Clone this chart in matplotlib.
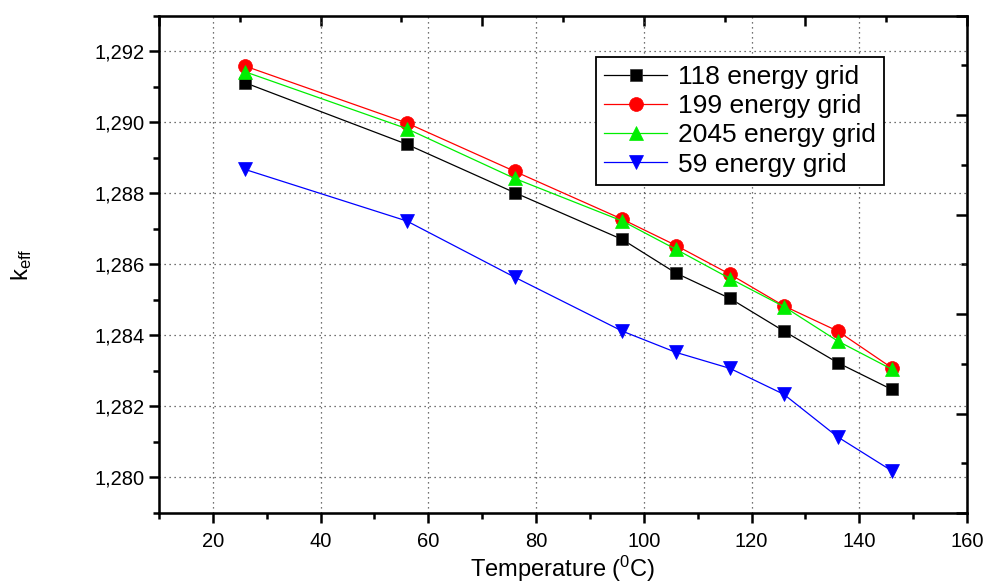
import numpy as np
import matplotlib
matplotlib.use('Agg')
import matplotlib.pyplot as plt
from matplotlib.ticker import MultipleLocator, FuncFormatter

plt.rcParams['font.family'] = ['Liberation Sans', 'DejaVu Sans']
plt.rcParams['mathtext.fontset'] = 'custom'
plt.rcParams['mathtext.rm'] = 'Liberation Sans'
plt.rcParams['mathtext.it'] = 'Liberation Sans'

# data
temps   = [26, 56, 76, 96, 106, 116, 126, 136, 146]
k_118   = [1.29111, 1.28938, 1.28802, 1.28670, 1.28575, 1.28504, 1.28412, 1.28323, 1.28248]
k_199   = [1.29158, 1.28998, 1.28862, 1.28727, 1.28653, 1.28572, 1.28483, 1.28412, 1.28309]
k_2045  = [1.29142, 1.28982, 1.28842, 1.28722, 1.28642, 1.28560, 1.28481, 1.28384, 1.28305]
k_59    = [1.28867, 1.28722, 1.28564, 1.28412, 1.28352, 1.28307, 1.28234, 1.28114, 1.28019]
labels  = ['118 energy grid', '199 energy grid', '2045 energy grid', '59 energy grid']

fig = plt.figure(figsize=(9.9, 5.85), dpi=100)
ax = fig.add_axes([0.1606, 0.1231, 0.8162, 0.8501])

ax.plot(temps, k_118, '-s', color='black', lw=0.9, ms=9, mec='#333333', mew=0.5, label=labels[0])
ax.plot(temps, k_199, '-o', color='red', lw=0.9, ms=10, mec='red', mew=0.5, label=labels[1])
ax.plot(temps, k_2045, '-^', color='#00ee00', lw=0.9, ms=10.5, mec='#00ee00', mew=0.5, label=labels[2])
ax.plot(temps, k_59, '-v', color='blue', lw=0.9, ms=10.5, mec='blue', mew=0.5, label=labels[3])

ax.set_xlim(10, 160)
ax.set_ylim(1.279, 1.293)
ax.xaxis.set_major_locator(MultipleLocator(20))
ax.xaxis.set_minor_locator(MultipleLocator(10))
ax.yaxis.set_major_locator(MultipleLocator(0.002))
ax.yaxis.set_minor_locator(MultipleLocator(0.001))
ax.yaxis.set_major_formatter(FuncFormatter(lambda v, p: ('%.3f' % v).replace('.', ',')))

ax.grid(True, which='major', linestyle=(0, (1, 3)), color='#444444', lw=0.9)
ax.tick_params(which='major', direction='out', length=7, width=1.8, labelsize=14.5)
ax.tick_params(which='minor', direction='out', length=4.5, width=1.8)
ax.tick_params(axis='x', pad=7)
ax.tick_params(axis='y', pad=3)
for s in ax.spines.values():
    s.set_linewidth(1.8)

# Origin-style opposite axes with their own tick spacing
axt = ax.twiny()
axt.set_xlim(0, 1)
axt.xaxis.set_major_locator(MultipleLocator(0.2))
axt.xaxis.set_minor_locator(MultipleLocator(0.1))
axt.tick_params(which='major', direction='in', length=7, width=1.8, labeltop=False)
axt.tick_params(which='minor', direction='in', length=4, width=1.8)
axr = ax.twinx()
axr.set_ylim(0, 1)
axr.yaxis.set_major_locator(MultipleLocator(0.2))
axr.yaxis.set_minor_locator(MultipleLocator(0.1))
axr.tick_params(which='major', direction='in', length=8, width=1.8, labelright=False)
axr.tick_params(which='minor', direction='in', length=4, width=1.8)
axr.set_zorder(-1)
axt.set_zorder(-1)
ax.patch.set_visible(False)

ax.set_xlabel('Temperature ($^0$C)', fontsize=17)
ax.xaxis.set_label_coords(0.5, -0.083)
ax.set_ylabel('k$_{eff}$', fontsize=17)
ax.yaxis.set_label_coords(-0.155, 0.5)

leg = ax.legend(loc='upper left', bbox_to_anchor=(0.541, 0.917), fontsize=19,
                frameon=True, fancybox=False, framealpha=1, edgecolor='black',
                handlelength=2.4, handletextpad=0.4, borderpad=0.3, labelspacing=0.2,
                borderaxespad=0)
leg.get_frame().set_linewidth(1.3)

fig.savefig('out.png', dpi=100)
